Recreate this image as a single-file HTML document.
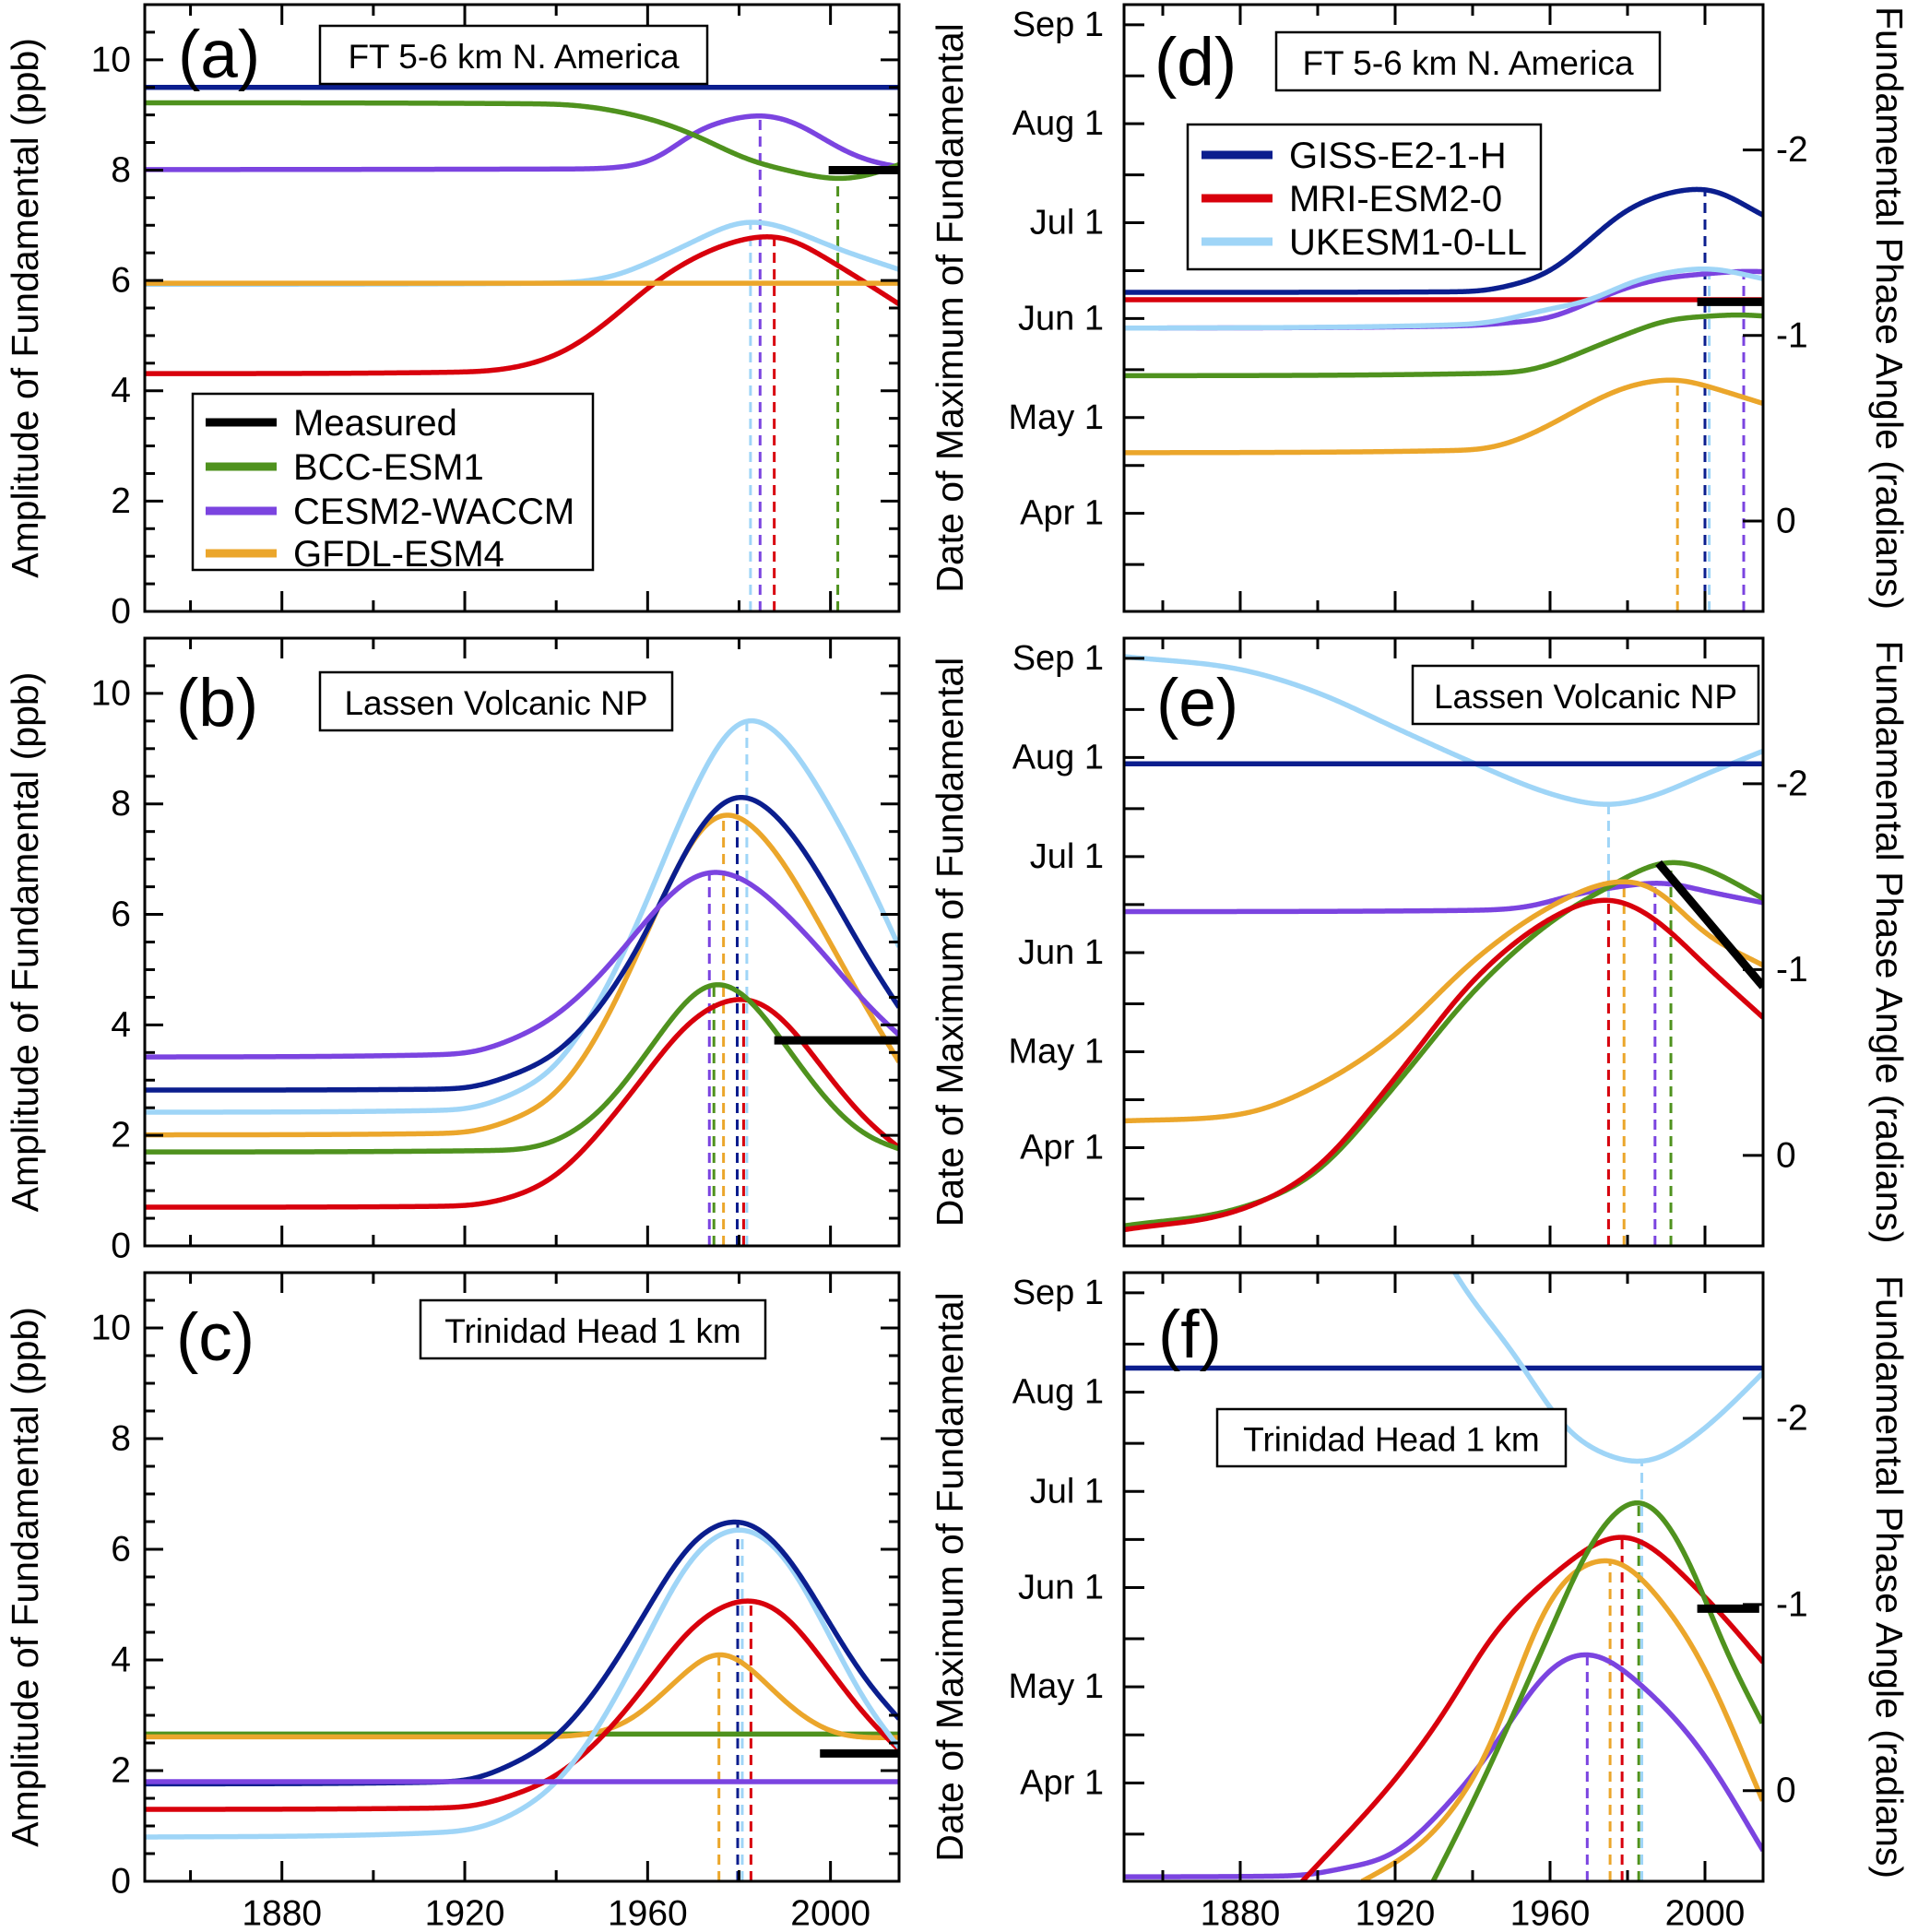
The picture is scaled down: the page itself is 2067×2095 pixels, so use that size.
<!DOCTYPE html>
<html><head><meta charset="utf-8"><title>Fundamental amplitude and phase</title>
<style>
html,body{margin:0;padding:0;background:#fff;}
svg{display:block;font-family:"Liberation Sans",Arial,sans-serif;}
</style></head>
<body>
<svg id="fig" xmlns="http://www.w3.org/2000/svg" width="2067" height="2095" viewBox="0 0 2067 2095"></svg>
<script>
// ---------- Panel (a) FT 5-6 km N. America, amplitude ----------
const a_navy_yr=[1850,2015], a_navy_v=[9.5,9.5];
const a_orange_yr=[1850,2015], a_orange_v=[5.95,5.95];
const a_green_yr=[1850,1939,1961,1972.7,1981,1993,2001.6,2009,2015], a_green_v=[9.22,9.2,8.92,8.55,8.21,7.95,7.82,7.91,8.1];
const a_purple_yr=[1850,1944,1961,1970,1981,1984.6,1993,2001.6,2009,2015], a_purple_v=[8.01,8.02,8.14,8.7,8.98,9.02,8.85,8.4,8.14,8.06];
const a_lblue_yr=[1850,1939,1952.7,1961,1970,1982,1988,2001.6,2015], a_lblue_v=[5.93,5.95,6.07,6.35,6.7,7.1,7.02,6.57,6.2];
const a_red_yr=[1850,1921,1941,1952.7,1961,1975,1987.7,2001.6,2015], a_red_v=[4.31,4.34,4.67,5.34,5.94,6.6,6.83,6.27,5.57];
const a_peak_model=['lblue','purple','red','green'], a_peak_yr=[1982.5,1984.6,1987.7,2001.6];
const a_meas_yr=[1999.6,2015], a_meas_v=[8,8];
// ---------- Panel (b) Lassen Volcanic NP, amplitude ----------
const b_purple_yr=[1850,1919.5,1930,1939.7,1950,1959.8,1965.8,1973.7,1981.6,1990,1999.5,2008,2015], b_purple_v=[3.42,3.47,3.72,4.14,4.92,5.9,6.46,6.83,6.64,6.04,5.2,4.35,3.82];
const b_navy_yr=[1850,1919.5,1930,1940,1950,1960,1969,1979.8,1990,1999.5,2008,2015], b_navy_v=[2.82,2.84,3.08,3.47,4.35,5.69,7.3,8.24,7.66,6.46,5.2,4.32];
const b_lblue_yr=[1850,1919.5,1930,1940,1950,1960,1969,1981.6,1990,1999.5,2008,2015], b_lblue_v=[2.42,2.46,2.73,3.23,4.49,6.25,8.08,9.65,9.21,8.0,6.68,5.41];
const b_orange_yr=[1850,1919.5,1930,1940,1950,1960,1969,1976.6,1986.8,1999.5,2008,2015], b_orange_v=[2.01,2.04,2.27,2.73,3.92,5.69,7.3,7.94,7.3,5.55,4.28,3.33];
const b_green_yr=[1850,1930,1940,1950,1960,1969,1974.7,1981.6,1990,1999.5,2008,2015], b_green_v=[1.70,1.73,1.89,2.45,3.51,4.53,4.85,4.56,3.65,2.59,1.96,1.76];
const b_red_yr=[1850,1919.5,1930,1940,1950,1960,1969,1981.6,1990,1999.5,2008,2015], b_red_v=[0.70,0.72,0.87,1.25,2.1,3.15,4.07,4.53,4.1,3.08,2.24,1.78];
const b_peak_model=['purple','green','orange','navy','red','lblue'], b_peak_yr=[1973.5,1974.5,1976.6,1979.6,1981,1981.7];
const b_meas_yr=[1987.7,2015], b_meas_v=[3.72,3.72];
// ---------- Panel (c) Trinidad Head 1 km, amplitude ----------
const c_green_yr=[1850,2015], c_green_v=[2.66,2.66];
const c_purple_yr=[1850,2015], c_purple_v=[1.80,1.80];
const c_orange_yr=[1850,1940,1950,1956,1965.8,1975.8,1982.6,1990,1999.5,2008,2015], c_orange_v=[2.61,2.61,2.70,2.87,3.58,4.23,3.86,3.23,2.70,2.59,2.6];
const c_navy_yr=[1850,1919.5,1930,1940,1950,1960,1969,1980,1990,1999.5,2008,2015], c_navy_v=[1.76,1.8,2.1,2.59,3.58,4.92,6.11,6.57,5.97,4.7,3.58,2.94];
const c_lblue_yr=[1850,1919.5,1930,1940,1950,1960,1969,1980.5,1990,1999.5,2008,2015], c_lblue_v=[0.80,0.9,1.18,1.75,2.87,4.42,5.83,6.43,5.9,4.49,3.15,2.42];
const c_red_yr=[1850,1919.5,1930,1940,1950,1960,1969,1982.6,1990,1999.5,2008,2015], c_red_v=[1.30,1.33,1.54,1.89,2.59,3.58,4.56,5.13,4.85,3.86,2.94,2.38];
const c_peak_model=['orange','navy','lblue','red'], c_peak_yr=[1975.6,1979.7,1980.7,1982.6];
const c_meas_yr=[1997.7,2015], c_meas_v=[2.31,2.31];
// ---------- Panel (d) FT 5-6 km, day of year of maximum ----------
const d_navy_yr=[1850,1940,1950,1960,1970,1979.5,2000,2015], d_navy_v=[160.2,160.4,162.4,166.6,176.3,186,192.9,184.2];
const d_red_yr=[1850,2015], d_red_v=[157.9,157.9];
const d_lblue_yr=[1850,1940,1950,1960,1970,1980,1990,2000.6,2015], d_lblue_v=[149,150.2,152.1,155.1,157.5,163,166.4,167.8,164.4];
const d_purple_yr=[1850,1940,1950,1960,1970,1980,1990,2000.6,2010,2015], d_purple_v=[149,149.8,150.8,152.1,157,161.8,164.8,166,166.9,166.7];
const d_green_yr=[1850,1950,1960,1970,1980,1990,2000.6,2010,2015], d_green_v=[134.1,135,137.5,142.4,147.2,151.5,152.7,153.3,152.8];
const d_orange_yr=[1850,1940,1950,1960,1970,1980,1992.9,2000.6,2015], d_orange_v=[110,110.8,113.2,118.7,125.4,130.8,133.1,130.8,125.4];
const d_peak_model=['orange','navy','lblue','purple'], d_peak_yr=[1992.9,2000,2001.1,2010];
const d_meas_yr=[1998,2015], d_meas_v=[157.2,157.2];
// ---------- Panel (e) Lassen, day of year of maximum ----------
const e_lblue_yr=[1850,1880,1900,1920,1940,1960,1975,1987,2000,2015], e_lblue_v=[244.5,240.6,233.3,222.3,211.4,201.6,198,201,207.7,215];
const e_navy_yr=[1850,2015], e_navy_v=[211,211];
const e_purple_yr=[1850,1940,1955,1965.8,1980,1989,2000,2015], e_purple_v=[164.8,165.2,166.4,170,173,174,171.2,167.6];
const e_orange_yr=[1850,1880,1900,1920,1940,1960,1979,1987,2000,2015], e_orange_v=[99.4,101.3,110.4,126.2,149.3,166.4,174.6,172.4,157.8,148.1];
const e_red_yr=[1850,1880,1900,1920,1940,1960,1975,1987,2000,2015], e_red_v=[65.4,71.5,84.8,112.8,143.2,162.7,169,162.7,148.1,131.7];
const e_green_yr=[1850,1880,1900,1920,1940,1960,1975,1991,2000,2015], e_green_v=[66.6,72.1,83.6,110.4,139.6,161.5,172.4,180.7,178.5,168.8];
const e_peak_model=['lblue','red','orange','purple','green'], e_peak_yr=[1975.1,1975.1,1979.1,1987.1,1991.2];
const e_meas_yr=[1988,2015], e_meas_v=[180,141.4];
// ---------- Panel (f) Trinidad Head, day of year of maximum ----------
const f_navy_yr=[1850,2015], f_navy_v=[220.5,220.5];
const f_lblue_yr=[1930,1935,1951,1964,1975,1984,1995,2005,2015], f_lblue_v=[262,250.3,224.6,201.4,193,190.8,197,207,219.1];
const f_green_yr=[1929.8,1940,1950,1960,1970,1983,1995,2005,2015], f_green_v=[60.3,84.7,111,138,165,180.4,163,133,109.3];
const f_red_yr=[1896,1920,1933,1945,1960,1978.6,2000,2015], f_red_v=[60.3,92,113.4,137,155.2,168.6,149.1,128.6];
const f_orange_yr=[1911.4,1920,1930,1943,1960,1975.5,1990,2000,2015], f_orange_v=[60.3,66,75.5,98,149,161.3,146,127,85];
const f_purple_yr=[1850,1895,1905,1920,1930,1943,1960,1969.6,1985,2000,2015], f_purple_v=[61.7,62,64,69,79.7,98,127,131.9,120,99.7,69.8];
const f_peak_model=['purple','orange','red','green','lblue'], f_peak_yr=[1969.6,1975.5,1978.6,1982.9,1983.7];
const f_meas_yr=[1998,2014], f_meas_v=[145.4,145.4];

// ---------- axis ticks ----------
const xTickYears=[1860,1880,1900,1920,1940,1960,1980,2000];
const xLabelYears=[1880,1920,1960,2000];
const ampTickLabels=[0,2,4,6,8,10];
const monthNames=['Apr 1','May 1','Jun 1','Jul 1','Aug 1','Sep 1'];
const monthDays=[91,121,152,182,213,244];
const midMonthDays=[75,106,136,167,197,228];
const radianLabels=[-2,-1,0];

const NS='http://www.w3.org/2000/svg';
const svg=document.getElementById('fig');
const COLORS={navy:'#0b1e8e',red:'#d8000c',lblue:'#9fd5f7',green:'#4f921e',purple:'#7b44e0',orange:'#eba62b',black:'#000'};
const MODEL={navy:'giss-e2-1-h',red:'mri-esm2-0',lblue:'ukesm1-0-ll',green:'bcc-esm1',purple:'cesm2-waccm',orange:'gfdl-esm4'};
function el(tag,attrs,parent){const e=document.createElementNS(NS,tag);for(const k in attrs)e.setAttribute(k,attrs[k]);(parent||svg).appendChild(e);return e;}
function mono(xs,ys){
  const n=xs.length;
  if(n<3){return x=>ys[0]+(ys[n-1]-ys[0])*(x-xs[0])/((xs[n-1]-xs[0])||1);}
  const d=[],m=new Array(n);
  for(let i=0;i<n-1;i++)d.push((ys[i+1]-ys[i])/(xs[i+1]-xs[i]));
  m[0]=d[0];m[n-1]=d[n-2];
  for(let i=1;i<n-1;i++){m[i]=(d[i-1]*d[i]<=0)?0:(d[i-1]+d[i])/2;}
  for(let i=0;i<n-1;i++){
    if(d[i]===0){m[i]=0;m[i+1]=0;continue;}
    const a=m[i]/d[i],b=m[i+1]/d[i],s=a*a+b*b;
    if(s>9){const t=3/Math.sqrt(s);m[i]=t*a*d[i];m[i+1]=t*b*d[i];}
  }
  const f=x=>{
    if(x<=xs[0])return ys[0]+m[0]*(x-xs[0]);
    if(x>=xs[n-1])return ys[n-1]+m[n-1]*(x-xs[n-1]);
    let i=0;while(i<n-2&&x>xs[i+1])i++;
    const h=xs[i+1]-xs[i],t=(x-xs[i])/h,t2=t*t,t3=t2*t;
    return (2*t3-3*t2+1)*ys[i]+(t3-2*t2+t)*h*m[i]+(-2*t3+3*t2)*ys[i+1]+(t3-t2)*h*m[i+1];
  };
  const sig=4;
  return x=>{
    let s=0,w=0;
    for(let k=-12;k<=12;k++){const dx=k*1;const ww=Math.exp(-dx*dx/(2*sig*sig));s+=ww*f(x+dx);w+=ww;}
    return s/w;
  };
}

const ROWS=[{top:5,bot:663},{top:692,bot:1351},{top:1380,bot:2040}];
const LX=[157,975], RX=[1219,1912];
const YEAR0=1850, YEAR1=2015;

const panels=[
 {id:'a',side:'L',row:0,title:'FT 5-6 km N. America',box:[347,28,767,91],letter:[193,84],
  series:[['navy',a_navy_yr,a_navy_v],['red',a_red_yr,a_red_v],['lblue',a_lblue_yr,a_lblue_v],['orange',a_orange_yr,a_orange_v],['purple',a_purple_yr,a_purple_v],['green',a_green_yr,a_green_v]],
  peaks:[a_peak_model,a_peak_yr],meas:[a_meas_yr,a_meas_v]},
 {id:'b',side:'L',row:1,title:'Lassen Volcanic NP',box:[347,729,729,792],letter:[191,787],
  series:[['red',b_red_yr,b_red_v],['green',b_green_yr,b_green_v],['orange',b_orange_yr,b_orange_v],['lblue',b_lblue_yr,b_lblue_v],['navy',b_navy_yr,b_navy_v],['purple',b_purple_yr,b_purple_v]],
  peaks:[b_peak_model,b_peak_yr],meas:[b_meas_yr,b_meas_v]},
 {id:'c',side:'L',row:2,title:'Trinidad Head 1 km',box:[456,1410,830,1473],letter:[191,1475],
  series:[['green',c_green_yr,c_green_v],['orange',c_orange_yr,c_orange_v],['red',c_red_yr,c_red_v],['lblue',c_lblue_yr,c_lblue_v],['navy',c_navy_yr,c_navy_v],['purple',c_purple_yr,c_purple_v]],
  peaks:[c_peak_model,c_peak_yr],meas:[c_meas_yr,c_meas_v]},
 {id:'d',side:'R',row:0,title:'FT 5-6 km N. America',box:[1384,35,1800,98],letter:[1252,92],
  series:[['orange',d_orange_yr,d_orange_v],['green',d_green_yr,d_green_v],['red',d_red_yr,d_red_v],['purple',d_purple_yr,d_purple_v],['lblue',d_lblue_yr,d_lblue_v],['navy',d_navy_yr,d_navy_v]],
  peaks:[d_peak_model,d_peak_yr],meas:[d_meas_yr,d_meas_v]},
 {id:'e',side:'R',row:1,title:'Lassen Volcanic NP',box:[1532,722,1907,785],letter:[1254,787],
  series:[['lblue',e_lblue_yr,e_lblue_v],['navy',e_navy_yr,e_navy_v],['purple',e_purple_yr,e_purple_v],['green',e_green_yr,e_green_v],['orange',e_orange_yr,e_orange_v],['red',e_red_yr,e_red_v]],
  peaks:[e_peak_model,e_peak_yr],meas:[e_meas_yr,e_meas_v]},
 {id:'f',side:'R',row:2,title:'Trinidad Head 1 km',box:[1320,1528,1698,1590],letter:[1256,1472],
  series:[['navy',f_navy_yr,f_navy_v],['lblue',f_lblue_yr,f_lblue_v],['purple',f_purple_yr,f_purple_v],['orange',f_orange_yr,f_orange_v],['red',f_red_yr,f_red_v],['green',f_green_yr,f_green_v]],
  peaks:[f_peak_model,f_peak_yr],meas:[f_meas_yr,f_meas_v]}
];

const defs=el('defs',{});
panels.forEach(p=>{
  const R=ROWS[p.row], X=p.side==='L'?LX:RX;
  const xs=yr=>X[0]+(yr-YEAR0)/(YEAR1-YEAR0)*(X[1]-X[0]);
  const ys=p.side==='L'? v=>R.bot-v/11*(R.bot-R.top) : v=>R.bot-(v-60.3)/190*(R.bot-R.top);
  const g=el('g',{});
  
  
  const cp=el('clipPath',{id:'clip-'+p.id},defs);
  el('rect',{x:X[0],y:R.top,width:X[1]-X[0],height:R.bot-R.top},cp);
  const plot=el('g',{'clip-path':'url(#clip-'+p.id+')'},g);
  
  
  const fns={};
  p.series.forEach(s=>{fns[s[0]]=mono(s[1],s[2]);});
  p.peaks[0].forEach((m,i)=>{
    const yr=p.peaks[1][i];
    const ln=el('line',{x1:xs(yr),x2:xs(yr),y1:R.bot,y2:ys(fns[m](yr)),stroke:COLORS[m],'stroke-width':3,'stroke-dasharray':'11 7'},plot);
    
    
  });
  p.series.forEach(s=>{
    const f=fns[s[0]],x0=s[1][0],x1=s[1][s[1].length-1];
    let d='';
    for(let t=x0;t<=x1+1e-9;t+=0.25){d+=(d?'L':'M')+xs(t).toFixed(2)+','+ys(f(t)).toFixed(2);}
    const path=el('path',{d:d,fill:'none',stroke:COLORS[s[0]],'stroke-width':5.5,'stroke-linejoin':'round'},plot);
    
    
  });
  const mm=el('line',{x1:xs(p.meas[0][0]),x2:xs(p.meas[0][1]),y1:ys(p.meas[1][0]),y2:ys(p.meas[1][1]),stroke:'#000','stroke-width':9},plot);
  
  
  const fr=el('rect',{x:X[0],y:R.top,width:X[1]-X[0],height:R.bot-R.top,fill:'none',stroke:'#000','stroke-width':3},g);
  
  
  const xt=el('g',{stroke:'#000','stroke-width':3},g);
  
  
  xTickYears.forEach(yr=>{
    const L=xLabelYears.includes(yr)?22:12, x=xs(yr);
    el('line',{x1:x,x2:x,y1:R.bot,y2:R.bot-L},xt);
    el('line',{x1:x,x2:x,y1:R.top,y2:R.top+L},xt);
  });
  if(p.row===2){
    xLabelYears.forEach(yr=>{
      const t=el('text',{x:xs(yr),y:2075,'font-size':39,'text-anchor':'middle','dominant-baseline':'central'},g);
      t.textContent=yr;
      
      
    });
  }
  const yt=el('g',{stroke:'#000','stroke-width':3},g);
  
  
  if(p.side==='L'){
    for(let v=0.5;v<11;v+=0.5){
      const L=(v%2===0)?20:11, y=ys(v);
      el('line',{x1:X[0],x2:X[0]+L,y1:y,y2:y},yt);
      el('line',{x1:X[1],x2:X[1]-L,y1:y,y2:y},yt);
    }
    ampTickLabels.forEach(v=>{
      const t=el('text',{x:142,y:ys(v),'font-size':39,'text-anchor':'end','dominant-baseline':'central'},g);
      t.textContent=v;
      
      
    });
    const at=el('text',{x:0,y:0,'font-size':41,'text-anchor':'middle','dominant-baseline':'central',transform:'translate(27,'+((R.top+R.bot)/2)+') rotate(-90)'},g);
    at.textContent='Amplitude of Fundamental (ppb)';
    
    
  } else {
    monthDays.concat(midMonthDays).forEach(dd=>{
      const y=ys(dd);
      el('line',{x1:X[0],x2:X[0]+22,y1:y,y2:y},yt);
    });
    monthNames.forEach((nm,i)=>{
      const t=el('text',{x:1197,y:ys(monthDays[i]),'font-size':38,'text-anchor':'end','dominant-baseline':'central'},g);
      t.textContent=nm;
      
      
    });
    radianLabels.forEach(r=>{
      const y=ys(88.6-58.1*r);
      el('line',{x1:X[1],x2:X[1]-22,y1:y,y2:y},yt);
      const t=el('text',{x:1926,y:y,'font-size':39,'text-anchor':'start','dominant-baseline':'central'},g);
      t.textContent=r;
      
      
    });
    const at=el('text',{x:0,y:0,'font-size':41,'text-anchor':'middle','dominant-baseline':'central',transform:'translate(1030,'+((R.top+R.bot)/2)+') rotate(-90)'},g);
    at.textContent='Date of Maximum of Fundamental';
    
    
    const rt=el('text',{x:0,y:0,'font-size':41,'text-anchor':'middle','dominant-baseline':'central',transform:'translate(2049,'+((R.top+R.bot)/2)+') rotate(90)'},g);
    rt.textContent='Fundamental Phase Angle (radians)';
    
    
  }
  const b=p.box;
  const bx=el('rect',{x:b[0],y:b[1],width:b[2]-b[0],height:b[3]-b[1],fill:'#fff',stroke:'#000','stroke-width':2.5},g);
  
  
  const bt=el('text',{x:(b[0]+b[2])/2,y:(b[1]+b[3])/2+2,'font-size':37,'text-anchor':'middle','dominant-baseline':'central'},g);
  bt.textContent=p.title;
  
  
  const lt=el('text',{x:p.letter[0],y:p.letter[1],'font-size':73},g);
  lt.textContent='('+p.id+')';
  
  
});

function legend(box,rows,lineX,textX,entries){
  const g=el('g',{});
  
  
  el('rect',{x:box[0],y:box[1],width:box[2]-box[0],height:box[3]-box[1],fill:'#fff',stroke:'#000','stroke-width':2.5},g);
  entries.forEach((e,i)=>{
    const row=el('g',{},g);
    
    
    el('line',{x1:lineX[0],x2:lineX[1],y1:rows[i],y2:rows[i],stroke:COLORS[e[0]],'stroke-width':9},row);
    const t=el('text',{x:textX,y:rows[i]+1,'font-size':40,'dominant-baseline':'central'},row);
    t.textContent=e[1];
  });
}
legend([209,427,643,618],[458,506,554,600],[223,300],318,[['black','Measured'],['green','BCC-ESM1'],['purple','CESM2-WACCM'],['orange','GFDL-ESM4']]);
legend([1288,135,1671,292],[168,215,262],[1303,1380],1398,[['navy','GISS-E2-1-H'],['red','MRI-ESM2-0'],['lblue','UKESM1-0-LL']]);
</script>
</body></html>
